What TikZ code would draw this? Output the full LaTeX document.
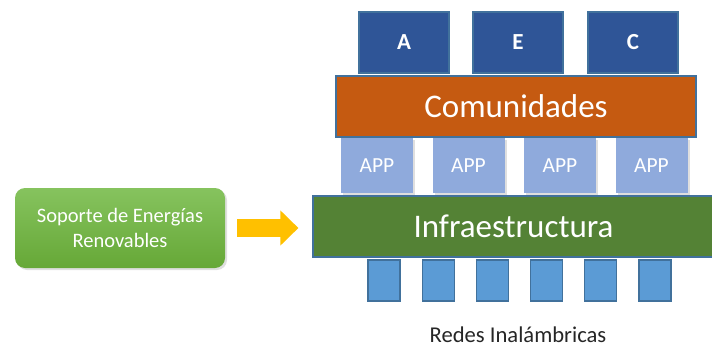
\documentclass[tikz,border=0pt]{standalone}
\usepackage{fontspec}
\setmainfont{Carlito}
\usetikzlibrary{arrows.meta,shadows}

\definecolor{edgeblue}{HTML}{41719C}
\definecolor{darkblue}{HTML}{2F5597}
\definecolor{commorange}{HTML}{C55A11}
\definecolor{applight}{HTML}{8FAADC}
\definecolor{infragreen}{HTML}{548235}
\definecolor{netblue}{HTML}{5B9BD5}
\definecolor{greentop}{HTML}{86C35E}
\definecolor{greenbot}{HTML}{66A837}
\definecolor{gold}{HTML}{FFC000}

\tikzset{
  layer/.style={draw=edgeblue,line width=1.2pt,text=white,inner sep=0pt,
    minimum height=61pt,font=\fontsize{33}{40}\selectfont},
  groupbox/.style={draw=edgeblue,line width=1.2pt,fill=darkblue,text=white,
    minimum width=90pt,minimum height=61pt,font=\fontsize{23}{28}\selectfont\bfseries},
  appbox/.style={fill=applight,text=white,minimum width=72pt,minimum height=55pt,
    font=\fontsize{21.5}{26}\selectfont,
    drop shadow={shadow xshift=2pt,shadow yshift=-2pt,opacity=0.25}},
  netbox/.style={draw=edgeblue,line width=1.2pt,fill=netblue,
    minimum width=32pt,minimum height=41pt,inner sep=0pt},
  sourcebox/.style={rounded corners=10pt,top color=greentop,bottom color=greenbot,
    text=white,align=center,minimum width=210pt,minimum height=80pt,
    font=\fontsize{20.5}{25}\selectfont,
    drop shadow={shadow xshift=2pt,shadow yshift=-2pt,opacity=0.25}}
}

\begin{document}
\begin{tikzpicture}[x=1pt,y=-1pt]
  \useasboundingbox (0,0) rectangle (712,345);
  \clip (0,0) rectangle (712,345);
  % top groups
  \node[groupbox] (ga) at (404,42.5) {A};
  \node[groupbox] (ge) at (518,42.5) {E};
  \node[groupbox] (gc) at (633,42.5) {C};
  \node[layer,fill=commorange,minimum width=360pt] (comm) at (516,106.5) {Comunidades};
  \foreach \i in {1,...,4}
    \node[appbox] (app\i) at ({377+91.5*(\i-1)},165.5) {APP};
  \node[layer,fill=infragreen,minimum width=401pt] (infra) at (513.5,226.5) {Infraestructura};
  \foreach \i in {1,...,6}
    \node[netbox] (net\i) at ({384+54.2*(\i-1)},280.5) {};
  \node[anchor=base,inner sep=1pt,text=black!85,font=\fontsize{22.6}{27}\selectfont] (redes) at (518,342) {Redes Inalámbricas};
  % renewable energy support
  \node[sourcebox] (source) at (120,228) {Soporte de Energías\\Renovables};
  \draw[gold,line width=18pt,-{Triangle[width=34pt,length=18pt]},
    shorten <=12pt,shorten >=14pt] (source.east) -- (source.east -| infra.west);
\end{tikzpicture}
\end{document}
